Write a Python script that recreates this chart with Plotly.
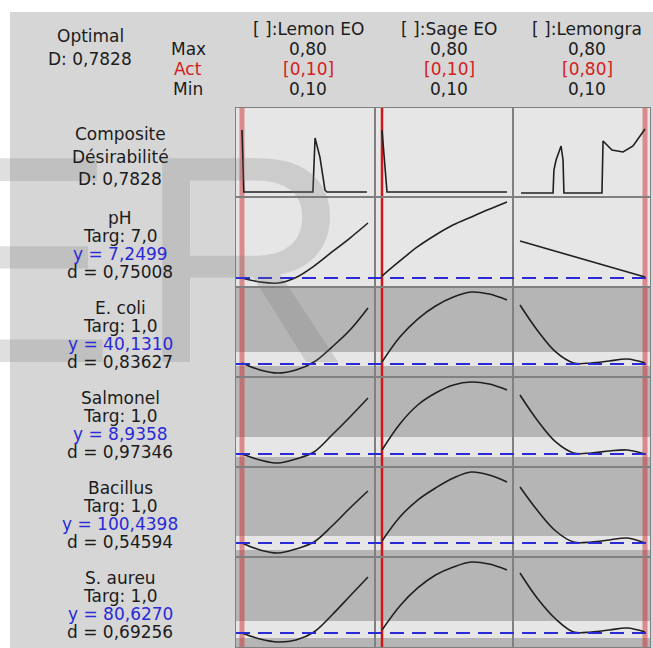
import plotly.graph_objects as go

W, H = 653, 648

# ---------------- data ----------------
factors = ["[ ]:Lemon EO", "[ ]:Sage EO", "[ ]:Lemongra"]
f_max = ["0,80", "0,80", "0,80"]
f_act = ["[0,10]", "[0,10]", "[0,80]"]
f_min = ["0,10", "0,10", "0,10"]
current = [0.10, 0.10, 0.80]

responses = ["pH", "E. coli", "Salmonel", "Bacillus", "S. aureu"]
targets = ["Targ: 7,0", "Targ: 1,0", "Targ: 1,0", "Targ: 1,0", "Targ: 1,0"]
y_pred = ["y = 7,2499", "y = 40,1310", "y = 8,9358", "y = 100,4398", "y = 80,6270"]
d_vals = ["d = 0,75008", "d = 0,83627", "d = 0,97346", "d = 0,54594", "d = 0,69256"]

# relative heights (0 = panel bottom, 1 = panel top)
target_level = [0.10, 0.144, 0.144, 0.156, 0.156]
band_low = [0.0, 0.122, 0.111, 0.078, 0.100]
band_high = [1.0, 0.278, 0.333, 0.233, 0.289]

x_grid = [0.10, 0.20, 0.30, 0.40, 0.50, 0.60, 0.70, 0.80]

ph_lemon = [0.100, 0.056, 0.044, 0.106, 0.233, 0.389, 0.544, 0.711]
ph_sage = [0.122, 0.289, 0.448, 0.578, 0.691, 0.778, 0.863, 0.944]
ph_lg_x = [0.10, 0.80]
ph_lg = [0.511, 0.111]

ecoli_lemon = [0.156, 0.078, 0.044, 0.078, 0.167, 0.333, 0.522, 0.767]
ecoli_sage = [0.167, 0.444, 0.644, 0.789, 0.889, 0.944, 0.922, 0.856]
ecoli_lg = [0.800, 0.511, 0.278, 0.156, 0.156, 0.178, 0.200, 0.156]

salm_lemon = [0.144, 0.078, 0.044, 0.089, 0.167, 0.356, 0.556, 0.767]
salm_sage = [0.189, 0.478, 0.689, 0.822, 0.911, 0.944, 0.922, 0.856]
salm_lg = [0.800, 0.511, 0.278, 0.156, 0.156, 0.178, 0.189, 0.144]

bac_lemon = [0.156, 0.078, 0.044, 0.089, 0.167, 0.344, 0.544, 0.733]
bac_sage = [0.178, 0.444, 0.633, 0.767, 0.878, 0.944, 0.911, 0.833]
bac_lg = [0.778, 0.511, 0.289, 0.167, 0.167, 0.189, 0.211, 0.156]

saur_lemon = [0.156, 0.089, 0.056, 0.078, 0.167, 0.356, 0.567, 0.778]
saur_sage = [0.189, 0.456, 0.656, 0.800, 0.889, 0.944, 0.922, 0.856]
saur_lg = [0.822, 0.533, 0.311, 0.167, 0.167, 0.189, 0.211, 0.167]

comp_lemon_x = [0.10, 0.104, 0.110, 0.494, 0.506, 0.533, 0.561, 0.572, 0.794]
comp_lemon_y = [0.753, 0.551, 0.056, 0.056, 0.663, 0.449, 0.079, 0.056, 0.056]
comp_sage_x = [0.10, 0.117, 0.128, 0.80]
comp_sage_y = [0.753, 0.382, 0.056, 0.056]
comp_lg_x = [0.106, 0.285, 0.290, 0.302, 0.330, 0.341, 0.346, 0.559, 0.565, 0.615, 0.677, 0.733, 0.80]
comp_lg_y = [0.045, 0.045, 0.303, 0.416, 0.573, 0.416, 0.045, 0.045, 0.629, 0.528, 0.506, 0.573, 0.764]

composite_label = ["Composite", "Désirabilité", "D: 0,7828"]
optimal_label = ["Optimal", "D: 0,7828"]
watermark = ["E", "R"]

# ---------------- layout geometry (pixels) ----------------
cols_px = [(236, 375), (375, 513), (513, 650)]
rows_px = [(108, 197), (197, 287), (287, 377), (377, 467), (467, 557), (557, 647)]
col_ranges = [(0.0667, 0.839), (0.0608, 0.8336), (0.0608, 0.828)]

BG = "#d6d6d6"
LIGHT = "#e6e6e6"
DARK = "#b5b5b5"
TXT = "#1c1c1c"
RED = "#d42020"
BLUE = "#2a2ad6"
FONT = "DejaVu Sans"
FS = 17

def px(x):
    return x / W

def py(y):
    return 1 - y / H

def ax_id(r, c):
    n = r * 3 + c + 1
    return "" if n == 1 else str(n)

fig = go.Figure()
layout = dict(width=W, height=H, margin=dict(l=0, r=0, t=0, b=0),
              paper_bgcolor=BG, plot_bgcolor=LIGHT, showlegend=False)
shapes = []

# white margins
shapes.append(dict(type="rect", xref="paper", yref="paper", x0=0, x1=1, y0=py(12), y1=1,
                   fillcolor="white", line_width=0, layer="below"))
shapes.append(dict(type="rect", xref="paper", yref="paper", x0=0, x1=px(10), y0=0, y1=1,
                   fillcolor="white", line_width=0, layer="below"))

for r in range(6):
    for c in range(3):
        a = ax_id(r, c)
        layout["xaxis" + a] = dict(domain=[px(cols_px[c][0]), px(cols_px[c][1])],
                                   range=list(col_ranges[c]), anchor="y" + a,
                                   showgrid=False, zeroline=False, showticklabels=False,
                                   ticks="", showline=True, mirror=True,
                                   linecolor="#808080", linewidth=1, fixedrange=True)
        layout["yaxis" + a] = dict(domain=[py(rows_px[r][1]), py(rows_px[r][0])],
                                   range=[0, 1], anchor="x" + a,
                                   showgrid=False, zeroline=False, showticklabels=False,
                                   ticks="", showline=True, mirror=True,
                                   linecolor="#808080", linewidth=1, fixedrange=True)
        xr, yr = "x" + a, "y" + a
        shapes.append(dict(type="rect", xref=xr + " domain", yref=yr + " domain",
                           x0=0, x1=1, y0=0, y1=1, fillcolor=LIGHT, line_width=0, layer="below"))
        if r >= 1 and band_high[r - 1] < 1:
            shapes.append(dict(type="rect", xref=xr + " domain", yref=yr + " domain",
                               x0=0, x1=1, y0=0, y1=1, fillcolor=DARK, line_width=0, layer="below"))
            shapes.append(dict(type="rect", xref=xr + " domain", yref=yr,
                               x0=0, x1=1, y0=band_low[r - 1], y1=band_high[r - 1],
                               fillcolor=LIGHT, line_width=0, layer="below"))

# red current-setting lines
for c in range(3):
    a = ax_id(0, c)
    wide = c != 1
    shapes.append(dict(type="line", xref="x" + a, yref="paper",
                       x0=current[c], x1=current[c], y0=py(rows_px[-1][1]), y1=py(rows_px[0][0]),
                       line=dict(color="rgba(205,45,45,0.5)" if wide else "#d01818",
                                 width=5 if wide else 2.5),
                       layer="below"))

# target dashed lines
for i in range(5):
    a = ax_id(i + 1, 0)
    shapes.append(dict(type="line", xref="paper", yref="y" + a,
                       x0=px(236), x1=px(652), y0=target_level[i], y1=target_level[i],
                       line=dict(color=BLUE, width=2, dash="14px,8px"), layer="above"))

layout["shapes"] = shapes

# curves
curve_sets = [
    [(comp_lemon_x, comp_lemon_y), (comp_sage_x, comp_sage_y), (comp_lg_x, comp_lg_y)],
    [(x_grid, ph_lemon), (x_grid, ph_sage), (ph_lg_x, ph_lg)],
    [(x_grid, ecoli_lemon), (x_grid, ecoli_sage), (x_grid, ecoli_lg)],
    [(x_grid, salm_lemon), (x_grid, salm_sage), (x_grid, salm_lg)],
    [(x_grid, bac_lemon), (x_grid, bac_sage), (x_grid, bac_lg)],
    [(x_grid, saur_lemon), (x_grid, saur_sage), (x_grid, saur_lg)],
]
for r, row in enumerate(curve_sets):
    for c, (xs, ys) in enumerate(row):
        a = ax_id(r, c)
        fig.add_trace(go.Scatter(x=xs, y=ys, mode="lines", xaxis="x" + a, yaxis="y" + a,
                                 line=dict(color="#202020", width=1.6,
                                           shape="linear" if r == 0 else "spline"),
                                 hoverinfo="skip"))

# ---------------- text ----------------
ann = []

# watermark letters (drawn first, under the labels)
WM = dict(family="Liberation Sans", size=296, color="rgba(120,120,120,0.24)")
ann.append(dict(text=watermark[0], x=0, y=py(92), xref="paper", yref="paper", xshift=-84,
                xanchor="left", yanchor="top", showarrow=False, font=WM))
ann.append(dict(text=watermark[1], x=px(136), y=py(92), xref="paper", yref="paper",
                xanchor="left", yanchor="top", showarrow=False, font=WM))

def text(t, x, y, color=TXT, size=FS):
    ann.append(dict(text=t, x=px(x), y=py(y), xref="paper", yref="paper",
                    xanchor="center", yanchor="middle", showarrow=False,
                    font=dict(family=FONT, size=size, color=color)))

text(optimal_label[0], 90, 36)
text(optimal_label[1], 90, 59)
text("Max", 188, 49)
text("Act", 188, 69, RED)
text("Min", 188, 89)
col_text_x = [308, 449, 587]
for c in range(3):
    text(factors[c], col_text_x[c], 29)
    text(f_max[c], col_text_x[c], 49)
    text(f_act[c], col_text_x[c], 69, RED)
    text(f_min[c], col_text_x[c], 89)

for i, t in enumerate(composite_label):
    text(t, 120, 134 + i * 22.5)

for i in range(5):
    top = rows_px[i + 1][0]
    text(responses[i], 120, top + 21)
    text(targets[i], 120, top + 39)
    text(y_pred[i], 120, top + 57, BLUE)
    text(d_vals[i], 120, top + 75)

layout["annotations"] = ann
fig.update_layout(**layout)
fig.write_html("out.html")
